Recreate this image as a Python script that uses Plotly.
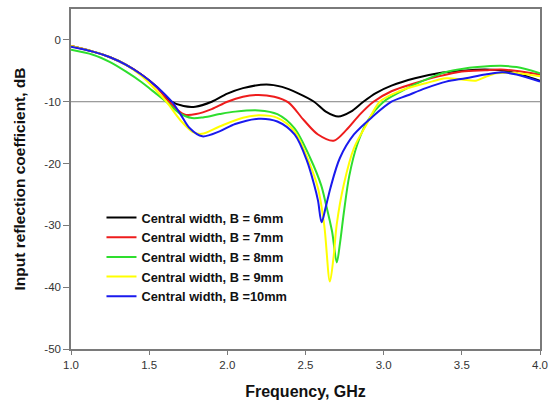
import plotly.graph_objects as go

# ---- data ----
f6 = [1.0, 1.14, 1.25, 1.35, 1.45, 1.55, 1.645, 1.72, 1.795, 1.9, 2.0, 2.1, 2.25, 2.35, 2.45, 2.555, 2.63, 2.71, 2.79, 2.87, 2.95, 3.05, 3.2, 3.35, 3.5, 3.65, 3.8, 3.9, 4.0]
s6 = [-1.0, -1.9, -2.8, -4.0, -5.6, -7.6, -10.0, -10.7, -10.8, -10.0, -8.7, -7.8, -7.2, -7.6, -8.6, -10.0, -11.6, -12.4, -11.6, -10.0, -8.6, -7.4, -6.2, -5.4, -5.0, -4.8, -5.1, -5.8, -6.6]

f7 = [1.0, 1.14, 1.25, 1.35, 1.45, 1.55, 1.62, 1.68, 1.73, 1.8, 1.9, 2.0, 2.1, 2.2, 2.3, 2.39, 2.49, 2.58, 2.68, 2.76, 2.85, 2.935, 3.05, 3.2, 3.35, 3.5, 3.65, 3.75, 3.9, 4.0]
s7 = [-1.0, -1.9, -2.8, -4.0, -5.6, -7.7, -9.8, -11.3, -12.1, -12.0, -11.2, -10.0, -9.2, -8.9, -9.2, -10.1, -13.0, -15.3, -16.3, -14.6, -12.0, -10.0, -8.3, -7.0, -5.9, -5.1, -4.9, -4.8, -5.2, -5.6]

f8 = [1.0, 1.14, 1.25, 1.35, 1.45, 1.52, 1.61, 1.69, 1.774, 1.85, 1.95, 2.05, 2.2, 2.32, 2.43, 2.53, 2.6, 2.63, 2.67, 2.70, 2.72, 2.745, 2.78, 2.83, 2.9, 3.0, 3.1, 3.2, 3.3, 3.4, 3.5, 3.6, 3.75, 3.85, 4.0]
s8 = [-1.6, -2.4, -3.6, -5.1, -6.8, -8.2, -10.0, -11.8, -12.65, -12.5, -12.0, -11.6, -11.4, -12.0, -14.3, -19.1, -23.5, -26.5, -31.0, -36.0, -33.0, -28.0, -22.0, -17.0, -13.0, -10.0, -8.5, -7.2, -6.1, -5.2, -4.7, -4.4, -4.2, -4.4, -5.4]

f9 = [1.0, 1.14, 1.25, 1.35, 1.45, 1.52, 1.61, 1.7, 1.78, 1.837, 1.95, 2.1, 2.2, 2.32, 2.43, 2.52, 2.58, 2.62, 2.656, 2.68, 2.70, 2.745, 2.81, 2.89, 2.975, 3.1, 3.27, 3.4, 3.5, 3.59, 3.65, 3.72, 3.8, 3.9, 4.0]
s9 = [-1.0, -1.9, -2.8, -4.0, -5.8, -7.5, -10.0, -13.0, -14.9, -15.2, -14.0, -12.6, -12.2, -12.6, -14.8, -19.6, -24.0, -30.0, -39.1, -35.0, -29.8, -23.4, -17.5, -13.7, -10.0, -8.3, -7.0, -6.2, -6.4, -6.6, -6.0, -5.4, -5.3, -5.5, -5.9]

f10 = [1.0, 1.14, 1.25, 1.35, 1.45, 1.55, 1.645, 1.7, 1.76, 1.84, 1.95, 2.05, 2.2, 2.32, 2.43, 2.51, 2.555, 2.58, 2.603, 2.63, 2.66, 2.72, 2.81, 2.93, 3.05, 3.15, 3.27, 3.4, 3.525, 3.65, 3.76, 3.85, 4.0]
s10 = [-1.1, -1.9, -2.8, -4.0, -5.6, -7.6, -10.0, -12.0, -14.3, -15.6, -14.8, -13.6, -12.75, -13.2, -15.3, -19.6, -23.4, -26.0, -29.5, -27.0, -23.9, -19.1, -15.3, -12.4, -10.0, -9.0, -7.8, -6.75, -6.2, -5.6, -5.25, -5.6, -6.75]

names = ["Central width, B = 6mm", "Central width, B = 7mm", "Central width, B = 8mm",
         "Central width, B = 9mm", "Central width, B =10mm"]
colors = ["#000000", "#ee1c1c", "#2ede2e", "#ffff00", "#1a1aee"]
xs = [f6, f7, f8, f9, f10]
ys = [s6, s7, s8, s9, s10]

x_ticks = [1.0, 1.5, 2.0, 2.5, 3.0, 3.5, 4.0]
y_ticks = [0, -10, -20, -30, -40, -50]

fig = go.Figure()
for x, y, n, c in zip(xs, ys, names, colors):
    fig.add_trace(go.Scatter(x=x, y=y, name=n, mode="lines",
                             line=dict(color=c, width=2, shape="spline", smoothing=0.9)))

fig.add_shape(type="line", xref="paper", x0=0, x1=1, yref="y", y0=-10, y1=-10,
              line=dict(color="#808080", width=1), layer="below")

font_fam = "Liberation Sans, Arial, sans-serif"
fig.update_layout(
    width=555, height=408,
    margin=dict(l=71, r=10, t=7, b=59),
    paper_bgcolor="white", plot_bgcolor="white",
    font=dict(family=font_fam, size=11.5, color="#333333"),
    showlegend=True,
    legend=dict(x=0.065, y=0.43, xanchor="left", yanchor="top",
                bgcolor="rgba(0,0,0,0)", borderwidth=0,
                font=dict(family=font_fam, size=12.8, color="#111111", weight="bold"),
                tracegroupgap=0, itemwidth=30),
    xaxis=dict(range=[1.0, 4.0], tickvals=x_ticks, ticktext=[f"{v:.1f}" for v in x_ticks],
               showgrid=False, zeroline=False, showline=True, linecolor="#7a7a7a", linewidth=1.5,
               mirror=True, ticks="outside", ticklen=4, tickcolor="#7a7a7a",
               tickfont=dict(size=11.5, color="#333333"),
               title=dict(text="Frequency, GHz", standoff=16,
                          font=dict(size=16, color="#111111", weight="bold"))),
    yaxis=dict(range=[-50, 5], tickvals=y_ticks, ticktext=[str(v) for v in y_ticks],
               showgrid=False, zeroline=False, showline=True, linecolor="#7a7a7a", linewidth=1.5,
               mirror=True, ticks="outside", ticklen=6, tickcolor="#7a7a7a",
               tickfont=dict(size=11.5, color="#333333"),
               title=dict(text="Input reflection coefficient, dB", standoff=15,
                          font=dict(size=15.5, color="#111111", weight="bold"))),
)

fig.write_html("out.html")
